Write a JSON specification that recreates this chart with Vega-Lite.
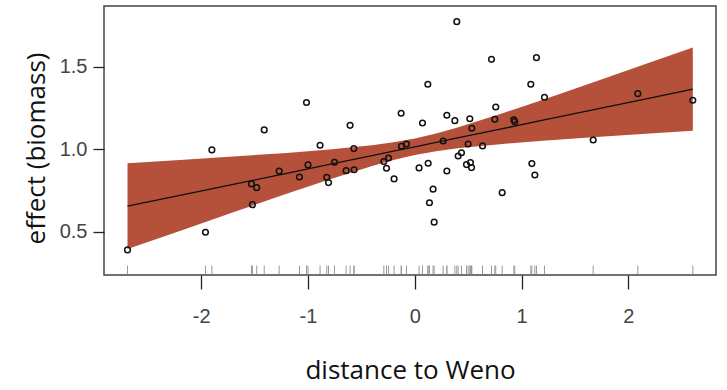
{
  "$schema": "https://vega.github.io/schema/vega-lite/v6.json",
  "width": 612,
  "height": 269,
  "autosize": "none",
  "padding": {"left": 104, "top": 6, "right": 11, "bottom": 115},
  "background": "white",
  "datasets": {
    "pts": [
      {"x": -2.69, "y": 0.39}, {"x": -1.96, "y": 0.497}, {"x": -1.90, "y": 0.996},
      {"x": -1.53, "y": 0.79}, {"x": -1.48, "y": 0.767}, {"x": -1.52, "y": 0.664},
      {"x": -1.41, "y": 1.117}, {"x": -1.27, "y": 0.867}, {"x": -1.08, "y": 0.832},
      {"x": -1.014, "y": 1.283}, {"x": -1.00, "y": 0.905}, {"x": -0.887, "y": 1.024},
      {"x": -0.824, "y": 0.830}, {"x": -0.808, "y": 0.798}, {"x": -0.752, "y": 0.921},
      {"x": -0.643, "y": 0.870}, {"x": -0.606, "y": 1.145}, {"x": -0.571, "y": 1.004},
      {"x": -0.568, "y": 0.876}, {"x": -0.290, "y": 0.925}, {"x": -0.265, "y": 0.885},
      {"x": -0.246, "y": 0.947}, {"x": -0.194, "y": 0.820}, {"x": -0.128, "y": 1.218},
      {"x": -0.125, "y": 1.018}, {"x": -0.078, "y": 1.032}, {"x": 0.040, "y": 0.887},
      {"x": 0.393, "y": 1.773}, {"x": 0.718, "y": 1.545}, {"x": 1.139, "y": 1.555},
      {"x": 0.122, "y": 1.394}, {"x": 1.086, "y": 1.394}, {"x": 1.214, "y": 1.315},
      {"x": 2.088, "y": 1.337}, {"x": 2.603, "y": 1.297}, {"x": 0.758, "y": 1.256},
      {"x": 0.072, "y": 1.159}, {"x": 0.300, "y": 1.206}, {"x": 0.375, "y": 1.173},
      {"x": 0.515, "y": 1.185}, {"x": 0.749, "y": 1.182}, {"x": 0.927, "y": 1.178},
      {"x": 0.936, "y": 1.167}, {"x": 0.534, "y": 1.127}, {"x": 0.265, "y": 1.050},
      {"x": 0.499, "y": 1.032}, {"x": 0.634, "y": 1.020}, {"x": 1.670, "y": 1.056},
      {"x": 0.437, "y": 0.979}, {"x": 0.406, "y": 0.959}, {"x": 0.125, "y": 0.915},
      {"x": 0.300, "y": 0.868}, {"x": 0.484, "y": 0.907}, {"x": 0.521, "y": 0.919},
      {"x": 0.531, "y": 0.889}, {"x": 1.096, "y": 0.913}, {"x": 1.124, "y": 0.844},
      {"x": 0.818, "y": 0.737}, {"x": 0.171, "y": 0.758}, {"x": 0.137, "y": 0.676},
      {"x": 0.181, "y": 0.558}
    ],
    "band": [
      {"x": -2.69, "fit": 0.655, "lo": 0.395, "hi": 0.915},
      {"x": -2.2, "fit": 0.720, "lo": 0.505, "hi": 0.935},
      {"x": -1.7, "fit": 0.787, "lo": 0.618, "hi": 0.956},
      {"x": -1.2, "fit": 0.854, "lo": 0.730, "hi": 0.978},
      {"x": -0.8, "fit": 0.908, "lo": 0.817, "hi": 0.999},
      {"x": -0.4, "fit": 0.961, "lo": 0.898, "hi": 1.024},
      {"x": -0.2, "fit": 0.988, "lo": 0.935, "hi": 1.042},
      {"x": 0.0, "fit": 1.015, "lo": 0.965, "hi": 1.065},
      {"x": 0.2, "fit": 1.042, "lo": 0.988, "hi": 1.095},
      {"x": 0.4, "fit": 1.069, "lo": 1.006, "hi": 1.132},
      {"x": 0.8, "fit": 1.122, "lo": 1.031, "hi": 1.213},
      {"x": 1.2, "fit": 1.176, "lo": 1.052, "hi": 1.300},
      {"x": 1.7, "fit": 1.243, "lo": 1.074, "hi": 1.412},
      {"x": 2.2, "fit": 1.310, "lo": 1.095, "hi": 1.525},
      {"x": 2.603, "fit": 1.364, "lo": 1.112, "hi": 1.616}
    ]
  },
  "config": {
    "view": {"stroke": "#444", "strokeWidth": 1.5}
  },
  "layer": [
    {
      "data": {"name": "band"},
      "mark": {"type": "area", "color": "#b5503a", "opacity": 1},
      "encoding": {
        "x": {"field": "x", "type": "quantitative", "title": "distance to Weno",
          "scale": {"domain": [-2.91, 2.82], "nice": false, "zero": false},
          "axis": {"values": [-2, -1, 0, 1, 2], "labelExpr": "datum.value < 0 ? '-' + (-datum.value) : '' + datum.value",
            "domain": false, "grid": false, "tickColor": "#222", "tickWidth": 1.3, "tickSize": 14,
            "labelFont": "Arial", "labelFontSize": 20, "labelColor": "#444", "labelPadding": 17,
            "titleFont": "Open Sans", "titleFontSize": 26, "titleFontWeight": "normal", "titleColor": "#111", "titlePadding": 31}},
        "y": {"field": "lo", "type": "quantitative", "title": "effect (biomass)",
          "scale": {"domain": [0.238, 1.868], "nice": false, "zero": false},
          "axis": {"values": [0.5, 1, 1.5], "labelExpr": "format(datum.value, '.1f')", "domain": false, "grid": false, "tickColor": "#222", "tickWidth": 1.3, "tickSize": 11,
            "labelFont": "Arial", "labelFontSize": 20, "labelColor": "#444", "labelPadding": 6,
            "titleFont": "Open Sans", "titleFontSize": 26, "titleFontWeight": "normal", "titleColor": "#111", "titlePadding": 10, "titleY": 142}},
        "y2": {"field": "hi"}
      }
    },
    {
      "data": {"name": "band"},
      "mark": {"type": "line", "color": "#111", "strokeWidth": 1.3},
      "encoding": {
        "x": {"field": "x", "type": "quantitative", "title": "distance to Weno"},
        "y": {"field": "fit", "type": "quantitative", "title": "effect (biomass)"}
      }
    },
    {
      "data": {"name": "pts"},
      "mark": {"type": "rule", "color": "#999", "strokeWidth": 1},
      "encoding": {
        "x": {"field": "x", "type": "quantitative", "title": "distance to Weno"},
        "y": {"datum": 0.295, "type": "quantitative", "title": "effect (biomass)"},
        "y2": {"datum": 0.243}
      }
    },
    {
      "data": {"name": "pts"},
      "mark": {"type": "point", "shape": "circle", "filled": false, "stroke": "#111", "strokeWidth": 1.5, "size": 32, "opacity": 1},
      "encoding": {
        "x": {"field": "x", "type": "quantitative", "title": "distance to Weno"},
        "y": {"field": "y", "type": "quantitative", "title": "effect (biomass)"}
      }
    }
  ]
}
